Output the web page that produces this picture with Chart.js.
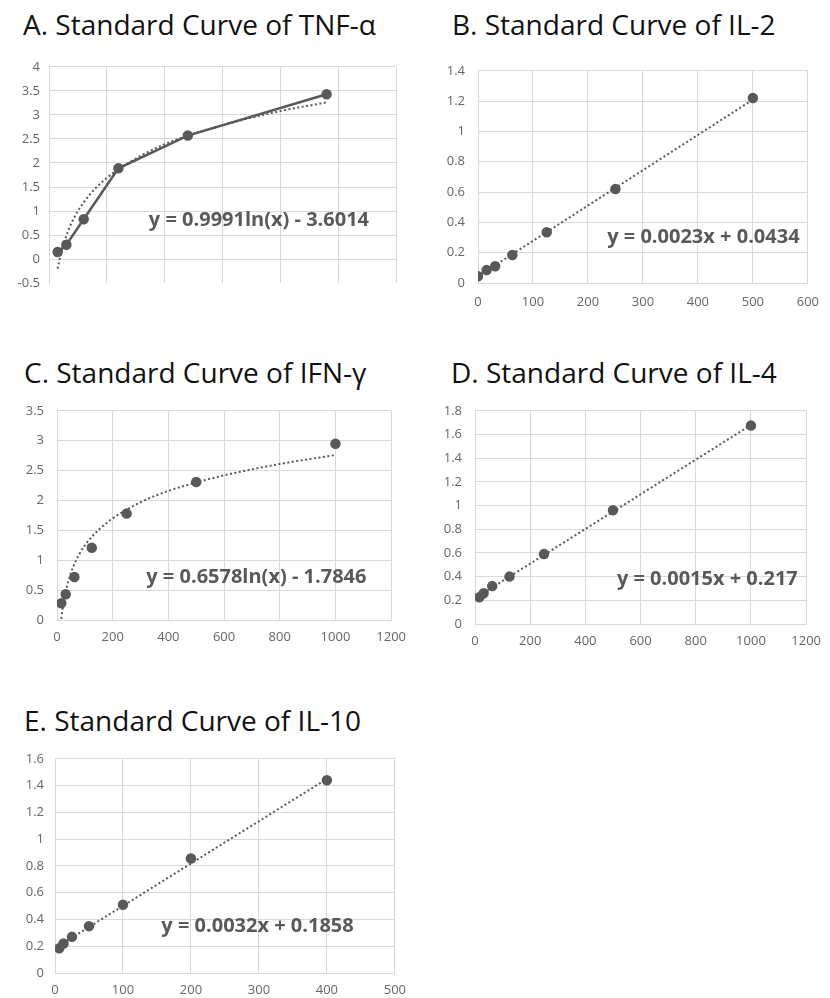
<!DOCTYPE html>
<html>
<head>
<meta charset="utf-8">
<script src="https://cdn.jsdelivr.net/npm/chart.js@4.4.0/dist/chart.umd.min.js"></script>
<style>
  body { margin: 0; background: #fff; }
  #page { position: relative; width: 830px; height: 998px; overflow: hidden; font-family: "Open Sans", sans-serif; }
  .title { position: absolute; font-size: 28px; line-height: 28px; color: #111; white-space: nowrap; }
  .box { position: absolute; }
</style>
</head>
<body>
<div id="page">
  <div class="title" style="left:23px;top:10px">A. Standard Curve of TNF-α</div>
  <div class="title" style="left:452px;top:10px">B. Standard Curve of IL-2</div>
  <div class="title" style="left:24px;top:358px">C. Standard Curve of IFN-γ</div>
  <div class="title" style="left:451px;top:358px">D. Standard Curve of IL-4</div>
  <div class="title" style="left:24px;top:706px">E. Standard Curve of IL-10</div>

  <div class="box" style="left:0;top:50px;width:415px;height:250px"><canvas id="chartA"></canvas></div>
  <div class="box" style="left:415px;top:50px;width:415px;height:260px"><canvas id="chartB"></canvas></div>
  <div class="box" style="left:0;top:390px;width:415px;height:260px"><canvas id="chartC"></canvas></div>
  <div class="box" style="left:415px;top:390px;width:415px;height:265px"><canvas id="chartD"></canvas></div>
  <div class="box" style="left:0;top:740px;width:415px;height:258px"><canvas id="chartE"></canvas></div>
</div>

<script>
// A. TNF-alpha (points joined by a line + log trendline)
const tnfConc = [30, 60, 120, 240, 480, 960];
const tnfOD = [0.15, 0.30, 0.83, 1.89, 2.57, 3.43];
const tnfFitX = [30, 35, 40, 50, 60, 80, 100, 120, 160, 200, 240, 320, 400, 480, 640, 800, 960];
const tnfFitY = [-0.20, -0.05, 0.08, 0.31, 0.49, 0.78, 1.00, 1.18, 1.47, 1.69, 1.87, 2.16, 2.39, 2.57, 2.85, 3.08, 3.26];
const tnfEq = "y = 0.9991ln(x) - 3.6014";

// B. IL-2
const il2Conc = [0, 15.6, 31.25, 62.5, 125, 250, 500];
const il2OD = [0.045, 0.085, 0.11, 0.185, 0.335, 0.62, 1.22];
const il2FitX = [0, 500];
const il2FitY = [0.045, 1.21];
const il2Eq = "y = 0.0023x + 0.0434";

// C. IFN-gamma
const ifnConc = [15.6, 31.25, 62.5, 125, 250, 500, 1000];
const ifnOD = [0.28, 0.43, 0.72, 1.21, 1.78, 2.31, 2.95];
const ifnFitX = [15.6, 20, 25, 30, 40, 60, 80, 100, 150, 200, 300, 400, 500, 600, 800, 1000];
const ifnFitY = [0.02, 0.19, 0.33, 0.45, 0.64, 0.91, 1.10, 1.25, 1.51, 1.70, 1.97, 2.16, 2.30, 2.42, 2.61, 2.76];
const ifnEq = "y = 0.6578ln(x) - 1.7846";

// D. IL-4
const il4Conc = [15.6, 31.25, 62.5, 125, 250, 500, 1000];
const il4OD = [0.225, 0.26, 0.32, 0.40, 0.59, 0.96, 1.675];
const il4FitX = [15.6, 1000];
const il4FitY = [0.24, 1.68];
const il4Eq = "y = 0.0015x + 0.217";

// E. IL-10
const il10Conc = [6.25, 12.5, 25, 50, 100, 200, 400];
const il10OD = [0.185, 0.22, 0.27, 0.35, 0.51, 0.855, 1.44];
const il10FitX = [6.25, 400];
const il10FitY = [0.205, 1.45];
const il10Eq = "y = 0.0032x + 0.1858";

const grey = "#595959";

// draws the trendline equation, anchored in data units
const eqLabel = {
  id: "eqLabel",
  afterDatasetsDraw(chart, args, opts) {
    const ctx = chart.ctx;
    const x = chart.scales.x.getPixelForValue(opts.at[0]);
    const y = chart.scales.y.getPixelForValue(opts.at[1]);
    ctx.save();
    ctx.font = 'bold 20px "Open Sans"';
    ctx.fillStyle = grey;
    ctx.textAlign = "center";
    ctx.textBaseline = "middle";
    ctx.fillText(opts.text, x, y);
    ctx.restore();
  }
};

function pairs(xs, ys) {
  return xs.map((x, i) => ({ x: x, y: ys[i] }));
}

function makeChart(id, conc, od, fitX, fitY, eq, c) {
  const ctx = document.getElementById(id).getContext("2d");
  return new Chart(ctx, {
    type: "scatter",
    data: {
      datasets: [
        {
          data: pairs(conc, od),
          showLine: c.joined,
          borderColor: grey,
          borderWidth: 2.5,
          backgroundColor: grey,
          pointRadius: 4,
          order: 2
        },
        {
          data: pairs(fitX, fitY),
          showLine: true,
          borderColor: grey,
          borderWidth: 2,
          borderDash: [2, 2.5],
          pointRadius: 0,
          cubicInterpolationMode: "monotone",
          order: 1
        }
      ]
    },
    options: {
      responsive: true,
      maintainAspectRatio: false,
      animation: false,
      layout: { padding: { top: c.padTop, right: c.padRight, left: 0, bottom: 0 } },
      plugins: {
        legend: { display: false },
        tooltip: { enabled: false },
        eqLabel: { text: eq, at: c.eqAt }
      },
      scales: {
        x: {
          type: "linear",
          min: 0,
          max: c.xMax,
          afterFit: s => { s.height = c.xHeight; },
          border: { display: c.xBorder, color: "#d9d9d9" },
          grid: { color: "#d9d9d9", drawTicks: false },
          ticks: {
            stepSize: c.xStep,
            padding: c.xPad,
            autoSkip: false,
            maxRotation: 0,
            color: "#666",
            font: { family: "Open Sans", size: 13 },
            callback: v => String(v)
          }
        },
        y: {
          min: c.yMin,
          max: c.yMax,
          afterFit: s => { s.width = c.yWidth; },
          border: { color: "#d9d9d9" },
          grid: {
            drawTicks: false,
            color: t => (t.tick && t.tick.value < 0 ? "rgba(0,0,0,0)" : "#d9d9d9")
          },
          ticks: {
            stepSize: c.yStep,
            padding: c.yPad,
            color: "#666",
            font: { family: "Open Sans", size: 13 },
            callback: v => String(+v.toFixed(2))
          }
        }
      }
    },
    plugins: [eqLabel]
  });
}

makeChart("chartA", tnfConc, tnfOD, tnfFitX, tnfFitY, tnfEq, {
  joined: true, xMax: 1200, xStep: 200, yMin: -0.5, yMax: 4, yStep: 0.5,
  yWidth: 49, xHeight: 13, padTop: 12, padRight: 19, xPad: -12, yPad: 9, xBorder: false,
  eqAt: [726, 0.8]
});
makeChart("chartB", il2Conc, il2OD, il2FitX, il2FitY, il2Eq, {
  joined: false, xMax: 600, xStep: 100, yMin: 0, yMax: 1.4, yStep: 0.2,
  yWidth: 63, xHeight: 27, padTop: 12, padRight: 14, xPad: 11, yPad: 13, xBorder: true,
  eqAt: [410, 0.30]
});
makeChart("chartC", ifnConc, ifnOD, ifnFitX, ifnFitY, ifnEq, {
  joined: false, xMax: 1200, xStep: 200, yMin: 0, yMax: 3.5, yStep: 0.5,
  yWidth: 57, xHeight: 30, padTop: 13, padRight: 23, xPad: 9, yPad: 13, xBorder: true,
  eqAt: [716, 0.72]
});
makeChart("chartD", il4Conc, il4OD, il4FitX, il4FitY, il4Eq, {
  joined: false, xMax: 1200, xStep: 200, yMin: 0, yMax: 1.8, yStep: 0.2,
  yWidth: 60, xHeight: 31, padTop: 14, padRight: 17, xPad: 9, yPad: 13, xBorder: true,
  eqAt: [842, 0.38]
});
makeChart("chartE", il10Conc, il10OD, il10FitX, il10FitY, il10Eq, {
  joined: false, xMax: 500, xStep: 100, yMin: 0, yMax: 1.6, yStep: 0.2,
  yWidth: 55, xHeight: 25, padTop: 11, padRight: 20, xPad: 9, yPad: 11, xBorder: true,
  eqAt: [298, 0.35]
});
</script>
</body>
</html>
